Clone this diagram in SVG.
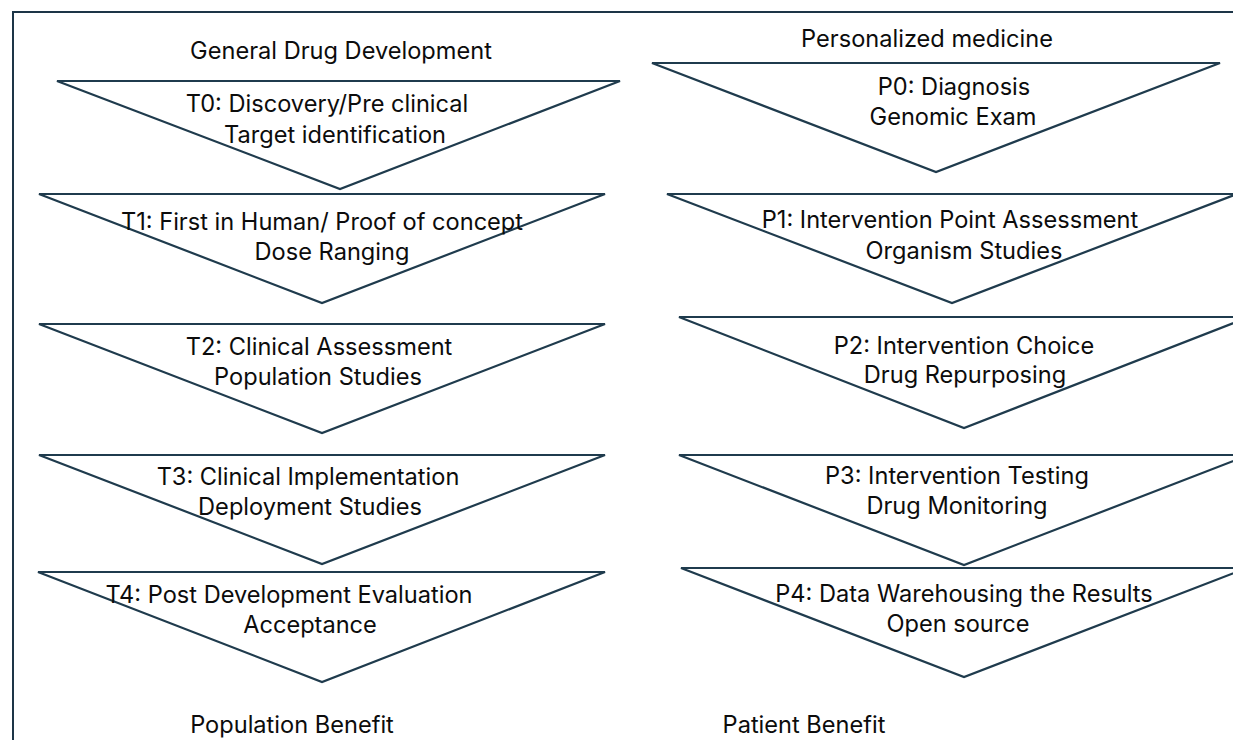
<svg xmlns="http://www.w3.org/2000/svg" width="1233" height="740" viewBox="0 0 1233 740">
  <style>
    .frame { fill: #ffffff; stroke: #1d3547; stroke-width: 2; }
    .stage { fill: #ffffff; stroke: #1f3b4d; stroke-width: 2.2; stroke-linejoin: miter; }
    .lbl { font-family: "Inter", "Liberation Sans", sans-serif; font-size: 23.6px; fill: #0c0c0c; text-anchor: middle; }
  </style>

  <!-- outer frame (runs past the right and bottom edges) -->
  <rect class="frame" x="13" y="12" width="1240" height="750"/>

  <!-- column headings -->
  <g id="heading-general">
    <text class="lbl" x="341" y="59">General Drug Development</text>
  </g>
  <g id="heading-personalized">
    <text class="lbl" x="927" y="47">Personalized medicine</text>
  </g>

  <!-- general drug development stages -->
  <g id="T0">
    <polygon class="stage" points="57,81 620,81 340,189"/>
    <text class="lbl" x="327" y="112">T0: Discovery/Pre clinical</text>
    <text class="lbl" x="335" y="143">Target identification</text>
  </g>
  <g id="T1">
    <polygon class="stage" points="39,194 605,194 322,303"/>
    <text class="lbl" x="322" y="230">T1: First in Human/ Proof of concept</text>
    <text class="lbl" x="332" y="260">Dose Ranging</text>
  </g>
  <g id="T2">
    <polygon class="stage" points="39,324 605,324 322,433"/>
    <text class="lbl" x="319" y="355">T2: Clinical Assessment</text>
    <text class="lbl" x="318" y="385">Population Studies</text>
  </g>
  <g id="T3">
    <polygon class="stage" points="39,455 605,455 322,564"/>
    <text class="lbl" x="308" y="485">T3: Clinical Implementation</text>
    <text class="lbl" x="310" y="515">Deployment Studies</text>
  </g>
  <g id="T4">
    <polygon class="stage" points="38,572 605,572 322,682"/>
    <text class="lbl" x="289" y="603">T4: Post Development Evaluation</text>
    <text class="lbl" x="310" y="633">Acceptance</text>
  </g>

  <!-- personalized medicine stages -->
  <g id="P0">
    <polygon class="stage" points="652,63 1220,63 936,172"/>
    <text class="lbl" x="954" y="95">P0: Diagnosis</text>
    <text class="lbl" x="953" y="125">Genomic Exam</text>
  </g>
  <g id="P1">
    <polygon class="stage" points="667,194 1237,194 952,303"/>
    <text class="lbl" x="950" y="228">P1: Intervention Point Assessment</text>
    <text class="lbl" x="964" y="259">Organism Studies</text>
  </g>
  <g id="P2">
    <polygon class="stage" points="679,317 1249,317 964,428"/>
    <text class="lbl" x="964" y="354">P2: Intervention Choice</text>
    <text class="lbl" x="965" y="383">Drug Repurposing</text>
  </g>
  <g id="P3">
    <polygon class="stage" points="679,455 1249,455 964,565"/>
    <text class="lbl" x="957" y="484">P3: Intervention Testing</text>
    <text class="lbl" x="957" y="514">Drug Monitoring</text>
  </g>
  <g id="P4">
    <polygon class="stage" points="681,568 1247,568 964,677"/>
    <text class="lbl" x="964" y="602">P4: Data Warehousing the Results</text>
    <text class="lbl" x="958" y="632">Open source</text>
  </g>

  <!-- outcome labels -->
  <g id="population-benefit">
    <text class="lbl" x="292" y="733">Population Benefit</text>
  </g>
  <g id="patient-benefit">
    <text class="lbl" x="804" y="733">Patient Benefit</text>
  </g>

  <!-- no connectors between stages -->
  <g id="connectors"/>
</svg>
